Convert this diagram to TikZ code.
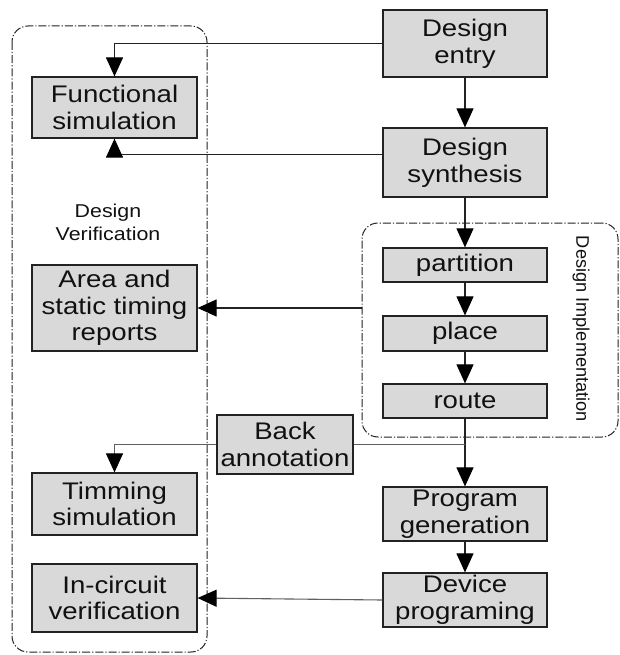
\documentclass[tikz,border=0pt]{standalone}
\usepackage{fontspec}
\setmainfont{Liberation Sans}[FakeStretch=1.15]
\newfontfamily\vertfont{Liberation Sans}
\usetikzlibrary{arrows.meta}
\definecolor{boxfill}{HTML}{D9D9D9}
\definecolor{ink}{HTML}{111111}
\definecolor{wire}{HTML}{222222}
\definecolor{softwire}{HTML}{606060}
\tikzset{
  stage/.style={draw=wire, line width=1.2pt, fill=boxfill, text=ink, align=center,
    inner sep=0pt, font=\fontsize{24}{26.7}\selectfont},
  tip/.style={-{Triangle[width=17pt,length=19pt,color=black,fill=black]}},
  flow/.style={draw=wire, line width=1.1pt, tip},
  softflow/.style={flow, draw=softwire},
  group/.style={draw=wire, line width=1pt, rounded corners=16pt,
    dash pattern=on 8pt off 2pt on 1.2pt off 2pt},
}
\begin{document}
\begin{tikzpicture}[x=1pt, y=-1pt]
\useasboundingbox (0,0) rectangle (619,655);

% grouping frames
\draw[group] (12,26) rectangle (207,652);
\node[group, minimum width=256pt, minimum height=214pt, inner sep=0pt] (impl) at (490,330) {};

% main flow
\node[stage, minimum width=164pt, minimum height=67pt] (entry) at (465,43.5) {Design\\entry};
\node[stage, minimum width=164pt, minimum height=69pt] (synth) at (465,162.5) {Design\\synthesis};
\node[stage, minimum width=164pt, minimum height=34pt] (part) at (465,265) {partition};
\node[stage, minimum width=164pt, minimum height=35pt] (place) at (465,333.5) {place};
\node[stage, minimum width=164pt, minimum height=34pt] (route) at (465,401) {route};
\node[stage, minimum width=164pt, minimum height=54pt] (progen) at (465,514) {Program\\generation};
\node[stage, minimum width=164pt, minimum height=54pt] (devprog) at (465,600) {Device\\programing};
\node[stage, minimum width=136pt, minimum height=59pt] (back) at (285,444.5) {Back\\annotation};

% verification side
\node[stage, minimum width=165pt, minimum height=61pt] (func) at (114.5,107.5) {Functional\\simulation};
\node[stage, minimum width=165pt, minimum height=86pt] (area) at (114.5,308) {Area and\\static timing\\reports};
\node[stage, minimum width=165pt, minimum height=62pt] (timing) at (114.5,504) {Timming\\simulation};
\node[stage, minimum width=165pt, minimum height=68pt] (incirc) at (114.5,598) {In-circuit\\verification};

% group labels
\node[text=ink, align=center, font=\fontsize{18.6}{23}\selectfont] (verlabel) at (108,222) {Design\\Verification};
\node[text=ink, rotate=-90, font=\vertfont\fontsize{18.2}{20}\selectfont] (impllabel) at (581,329) {Design Implementation};

% connectors
\draw[flow] (entry.west) -| (func.north);
\draw[flow] ([yshift=8pt]synth.west) -| (func.south);
\draw[flow] (entry) -- (synth);
\draw[flow] (synth) -- (part);
\draw[flow] (part) -- (place);
\draw[flow] (place) -- (route);
\draw[flow] (route) -- (progen);
\draw[flow] (progen) -- (devprog);
\draw[flow] (area.east -| impl.west) -- (area.east);
\draw[draw=softwire, line width=1.1pt] (back.east) -- (back.east -| route.south);
\draw[softflow] (back.west) -| (timing.north);
\draw[softflow] (devprog.west) -- (incirc.east);
\end{tikzpicture}
\end{document}
